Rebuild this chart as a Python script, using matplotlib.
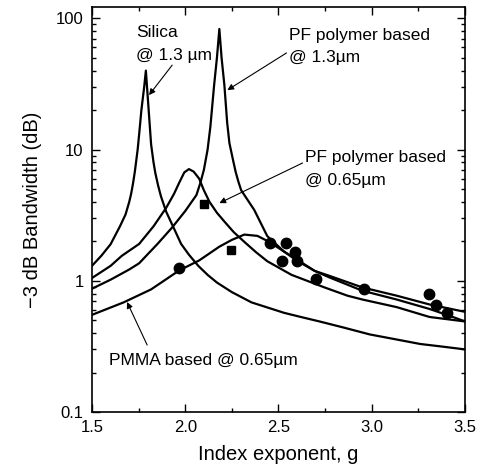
import numpy as np
import matplotlib
matplotlib.use('Agg')
import matplotlib.pyplot as plt
from matplotlib.ticker import LogLocator, NullFormatter, MultipleLocator

plt.rcParams['font.family'] = ['Liberation Sans', 'DejaVu Sans']

# --- dane ---
silica_g = [1.50, 1.55, 1.60, 1.65, 1.68, 1.70, 1.71, 1.72, 1.73, 1.745,
            1.755, 1.765, 1.78, 1.789, 1.803, 1.817, 1.83, 1.84, 1.855, 1.87,
            1.898, 1.94, 1.978, 2.02, 2.07, 2.12, 2.17, 2.25, 2.355, 2.45,
            2.53, 2.62, 2.72, 2.85, 2.99, 3.12, 3.26, 3.38, 3.50]
silica_bw = [1.30, 1.55, 1.9, 2.6, 3.2, 4.0, 4.6, 5.5, 6.8, 10.0,
             14.0, 20.0, 30.0, 40.0, 21.0, 11.0, 8.0, 6.6, 5.3, 4.4,
             3.36, 2.5, 1.91, 1.58, 1.3, 1.11, 0.97, 0.82, 0.685, 0.62,
             0.57, 0.53, 0.49, 0.44, 0.39, 0.36, 0.33, 0.315, 0.30]

pf13_g = [1.50, 1.60, 1.70, 1.753, 1.80, 1.85, 1.93, 2.00, 2.06, 2.08,
          2.10, 2.12, 2.135, 2.155, 2.17, 2.183, 2.195, 2.21, 2.225, 2.237,
          2.255, 2.27, 2.285, 2.30, 2.37, 2.44, 2.53, 2.60, 2.694, 2.774,
          2.95, 3.134, 3.31, 3.435, 3.50]
pf13_bw = [0.87, 1.02, 1.22, 1.36, 1.6, 1.9, 2.55, 3.4, 4.5, 5.5,
           7.0, 10.0, 15.0, 31.0, 50.0, 83.0, 50.0, 31.0, 16.0, 11.2,
           8.5, 6.8, 5.7, 4.9, 3.47, 2.19, 1.67, 1.45, 1.19, 1.06,
           0.84, 0.72, 0.61, 0.53, 0.49]

pf065_g = [1.50, 1.60, 1.66, 1.753, 1.83, 1.898, 1.94, 1.968, 1.995, 2.02,
           2.045, 2.075, 2.10, 2.13, 2.17, 2.21, 2.26, 2.317, 2.38, 2.44,
           2.57, 2.747, 2.87, 2.95, 3.134, 3.31, 3.50]
pf065_bw = [1.05, 1.3, 1.55, 1.91, 2.6, 3.6, 4.6, 5.6, 6.7, 7.1,
            6.8, 6.0, 4.9, 4.0, 3.3, 2.83, 2.35, 1.98, 1.65, 1.41,
            1.11, 0.89, 0.77, 0.72, 0.63, 0.53, 0.49]

pmma_g = [1.50, 1.67, 1.817, 1.968, 2.075, 2.183, 2.25, 2.317, 2.387, 2.45,
          2.53, 2.60, 2.694, 2.774, 2.95, 3.134, 3.31, 3.50]
pmma_bw = [0.55, 0.685, 0.86, 1.2, 1.43, 1.82, 2.05, 2.25, 2.2, 1.98,
           1.67, 1.42, 1.19, 1.09, 0.89, 0.77, 0.66, 0.58]

# punkty pomiarowe
circ_g = [1.968, 2.452, 2.538, 2.59, 2.52, 2.60, 2.70, 2.957, 3.306, 3.344, 3.403]
circ_bw = [1.25, 1.94, 1.94, 1.67, 1.41, 1.41, 1.03, 0.86, 0.80, 0.65, 0.57]
sq_g = [2.102, 2.247]
sq_bw = [3.85, 1.73]

fig = plt.figure(figsize=(4.84, 4.69), dpi=100)
ax = fig.add_axes([0.190, 0.1215, 0.7707, 0.8635])

for g, bw in [(silica_g, silica_bw), (pf13_g, pf13_bw),
              (pf065_g, pf065_bw), (pmma_g, pmma_bw)]:
    ax.plot(g, bw, color='black', lw=1.6, solid_joinstyle='round')

ax.plot(circ_g, circ_bw, 'o', color='black', ms=7.5, zorder=3)
ax.plot(sq_g, sq_bw, 's', color='black', ms=6, zorder=3)

ax.set_yscale('log')
ax.set_xlim(1.5, 3.5)
ax.set_ylim(0.1, 122)
ax.set_yticks([0.1, 1, 10, 100])
ax.set_yticklabels(['0.1', '1', '10', '100'])
ax.yaxis.set_minor_locator(LogLocator(base=10, subs=np.arange(2, 10)))
ax.yaxis.set_minor_formatter(NullFormatter())
ax.xaxis.set_major_locator(MultipleLocator(0.5))
ax.xaxis.set_minor_locator(MultipleLocator(0.25))
ax.set_xticks([1.5, 2.0, 2.5, 3.0, 3.5])
ax.set_xticklabels(['1.5', '2.0', '2.5', '3.0', '3.5'])
ax.tick_params(which='both', direction='in', top=True, right=True,
               labelsize=12, width=1.0)
ax.tick_params(which='major', length=6, pad=6)
ax.tick_params(which='minor', length=3)
for s in ax.spines.values():
    s.set_linewidth(1.2)

ax.set_xlabel('Index exponent, g', fontsize=14.5, labelpad=7)
ax.set_ylabel('\u22123 dB Bandwidth (dB)', fontsize=14.5, labelpad=10)

fs = 12.5
ax.text(1.737, 72, 'Silica', fontsize=fs)
ax.text(1.737, 48, '@ 1.3 \u00b5m', fontsize=fs)
ax.text(2.559, 68, 'PF polymer based', fontsize=fs)
ax.text(2.559, 46.5, '@ 1.3\u00b5m', fontsize=fs)
ax.text(2.640, 8.0, 'PF polymer based', fontsize=fs)
ax.text(2.640, 5.37, '@ 0.65\u00b5m', fontsize=fs)
ax.text(1.591, 0.228, 'PMMA based @ 0.65\u00b5m', fontsize=fs)

arr = dict(arrowstyle='-|>', lw=0.8, color='black', mutation_scale=9,
           shrinkA=0, shrinkB=0)
ax.annotate('', xy=(1.806, 26), xytext=(1.930, 44), arrowprops=arr)
ax.annotate('', xy=(2.226, 28.4), xytext=(2.543, 54.5), arrowprops=arr)
ax.annotate('', xy=(2.183, 3.91), xytext=(2.629, 7.9), arrowprops=arr)
ax.annotate('', xy=(1.688, 0.689), xytext=(1.796, 0.324), arrowprops=arr)

fig.savefig('out.png', dpi=100)
